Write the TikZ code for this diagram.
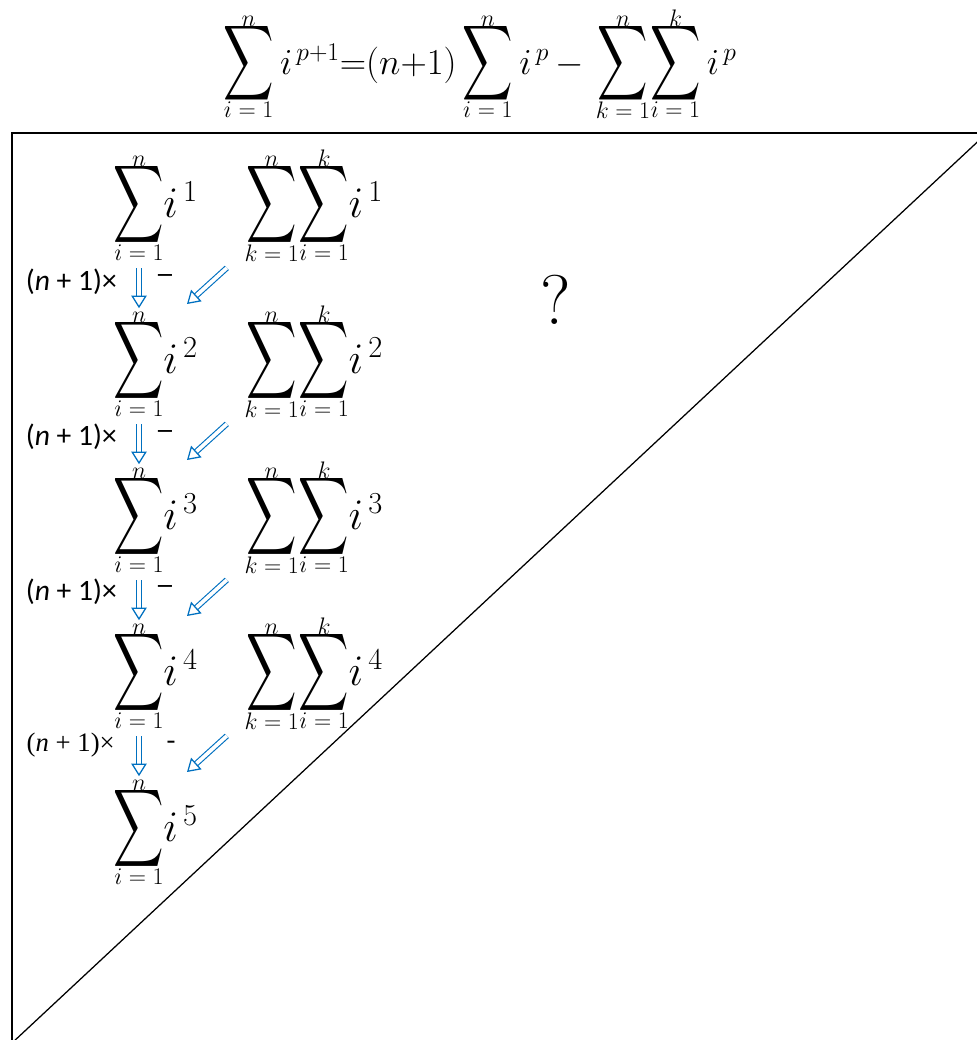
\RequirePackage{fix-cm}
\documentclass[tikz,border=0pt]{standalone}
\usepackage{amsmath}
\usepackage{graphicx}
\usepackage{fontspec}
\newfontfamily\calib{Carlito}
\newfontfamily\timesf{Liberation Serif}
\newfontfamily\dejavu{DejaVu Sans}
\usetikzlibrary{arrows.meta,calc}
\definecolor{arrowblue}{RGB}{0,112,192}
% tall summation sign, limits pulled in close
\newcommand{\tallsum}[1][1.55]{\mathop{\vcenter{\hbox{\raisebox{0pt}[\dimexpr\height-9pt\relax][\dimexpr\depth-6pt\relax]{\scalebox{1}[#1]{$\displaystyle\sum$}}}}}\limits}
\newcommand{\sumlim}[1]{\hbox{\fontsize{17}{20}\selectfont$#1$}}
\tikzset{
    sumop/.style={inner sep=0pt, anchor=base, font=\fontsize{31}{37}\selectfont},
    sumterm/.style={inner sep=0pt, anchor=base west, font=\fontsize{31}{37}\selectfont},
    steplbl/.style={inner sep=0pt, anchor=east, font=\calib\fontsize{21}{25}\selectfont},
    minuslbl/.style={inner sep=0pt, font=\dejavu\fontsize{16}{19}\selectfont},
    dblarrow/.style={draw=arrowblue, line width=0.8pt, double=white, double distance=2.6pt,
        -{Triangle[open, length=9pt, width=11pt, line width=0.9pt]},
        shorten <=3pt}
}
\begin{document}
\begin{tikzpicture}[x=0.025cm, y=-0.025cm]
    \useasboundingbox (0,0) rectangle (977,1040);
    % triangle frame
    \coordinate (tl) at (12,133);
    \coordinate (tr) at (987,133);
    \coordinate (bl) at (12,1043);
    \begin{scope}
        \clip (0,0) rectangle (977,1040);
        \draw[line width=1.2pt] (bl) -- (tl) -- (tr);
        \draw[line width=0.9pt] (tr) -- (bl);
    \end{scope}
    % recursion formula
    \node[sumop, font=\fontsize{26}{31}\selectfont] (eq) at (480,74)
        {$\tallsum[1.5]_{\sumlim{i=1}}^{\sumlim{n}} i^{\,p+1}{=}(n{+}1)\tallsum[1.5]_{\sumlim{i=1}}^{\sumlim{n}} i^{\,p}\,{-}\,\tallsum[1.5]_{\sumlim{k=1}}^{\sumlim{n}}\!\tallsum[1.5]_{\sumlim{i=1}}^{\sumlim{k}} i^{\,p}$};
    % left column
    \foreach \k in {1,...,5} {
        \pgfmathsetmacro{\yb}{217+156*(\k-1)}
        \node[sumop] (a\k) at (139,\yb) {$\tallsum_{\sumlim{i=1}}^{\sumlim{n}}$};
        \node[sumterm] (at\k) at ([xshift=-1pt]a\k.base east) {$i^{\,\k}$};
    }
    % right column
    \foreach \k in {1,...,4} {
        \pgfmathsetmacro{\yb}{217+156*(\k-1)}
        \node[sumop] (b\k) at (297,\yb) {$\tallsum_{\sumlim{k=1}}^{\sumlim{n}}\!\tallsum_{\sumlim{i=1}}^{\sumlim{k}}$};
        \node[sumterm] (bt\k) at ([xshift=-1pt]b\k.base east) {$i^{\,\k}$};
    }
    % steps
    \foreach \k [count=\j from 2] in {1,...,4} {
        \draw[dblarrow] (a\k) -- (a\j);
        \draw[dblarrow] ($(b\k.base)+(-67,48)$) -- ($(a\j.base)+(48,-69)$);
    }
    \foreach \k in {1,2,3} {
        \pgfmathsetmacro{\yl}{282+155*(\k-1)}
        \node[steplbl] (m\k) at (117,\yl) {(\textit{n} + 1)×};
        \node[minuslbl] (s\k) at (165,\yl-3) {−};
    }
    \node[steplbl, font=\timesf\fontsize{19}{23}\selectfont] (m4) at (115,745) {(\textit{n} + 1)×};
    \node[minuslbl, font=\timesf\fontsize{19}{23}\selectfont] (s4) at (171,745) {-};
    % open question
    \node[font=\fontsize{50}{60}\selectfont] (q) at (556,300) {?};
\end{tikzpicture}
\end{document}
